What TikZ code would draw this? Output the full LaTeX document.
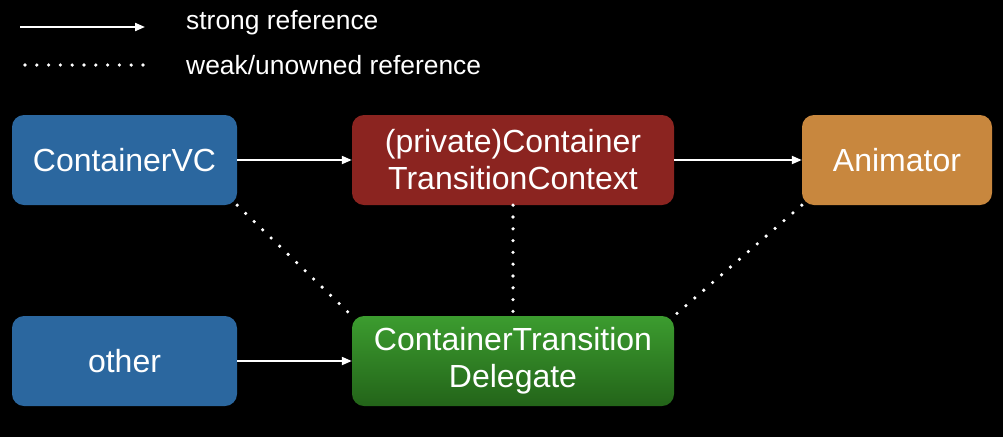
\documentclass[tikz,border=0pt]{standalone}
\usepackage{fontspec}
\setmainfont{Liberation Sans}
\usetikzlibrary{arrows.meta}
\definecolor{vcblue}{HTML}{2B679F}
\definecolor{ctxred}{HTML}{8B2420}
\definecolor{animorange}{HTML}{C8873E}
\definecolor{delgreenT}{HTML}{3C9C2F}
\definecolor{delgreenB}{HTML}{236419}
\tikzset{
  box/.style={rounded corners=12pt, minimum height=90pt, inner sep=0pt,
    text=white, font=\fontsize{32}{37}\selectfont, align=center},
  strongref/.style={draw=white, line width=2pt, -{Triangle[length=10pt,width=8pt]}},
  weakref/.style={draw=white, line width=3.6pt, line cap=round, dash pattern=on 0pt off 11.8pt},
  legendtext/.style={text=white, font=\fontsize{26.4}{30}\selectfont, anchor=base west, inner sep=0pt}
}
\begin{document}
\begin{tikzpicture}[x=1pt,y=-1pt]
\fill[black] (0,0) rectangle (1003,437);
\useasboundingbox (0,0) rectangle (1003,437);
% legend
\coordinate (ls1) at (20,27);
\coordinate (le1) at (145,27);
\coordinate (ls2) at (25,65);
\coordinate (le2) at (146,65);
\draw[strongref] (ls1) -- (le1);
\draw[weakref] (ls2) -- (le2);
\node[legendtext] (lt1) at (186,29) {strong reference};
\node[legendtext] (lt2) at (186,74) {weak/unowned reference};
% boxes
\node[box, fill=vcblue, minimum width=225pt] (cvc) at (124.5,160) {ContainerVC};
\node[box, fill=ctxred, minimum width=322pt] (ctx) at (513,160) {(private)Container\\TransitionContext};
\node[box, fill=animorange, minimum width=190pt] (anim) at (897,160) {Animator};
\node[box, fill=vcblue, minimum width=225pt] (oth) at (124.5,361) {other};
\node[box, top color=delgreenT, bottom color=delgreenB, minimum width=322pt] (del) at (513,361) {ContainerTransition\\Delegate};
% connectors
\draw[strongref] (cvc) -- (ctx);
\draw[strongref] (ctx) -- (anim);
\draw[strongref] (oth) -- (del);
\draw[weakref] (cvc.south east) -- (del.north west);
\draw[weakref] (ctx.south) -- (del.north);
\draw[weakref] (anim.south west) -- (del.north east);
\end{tikzpicture}
\end{document}
